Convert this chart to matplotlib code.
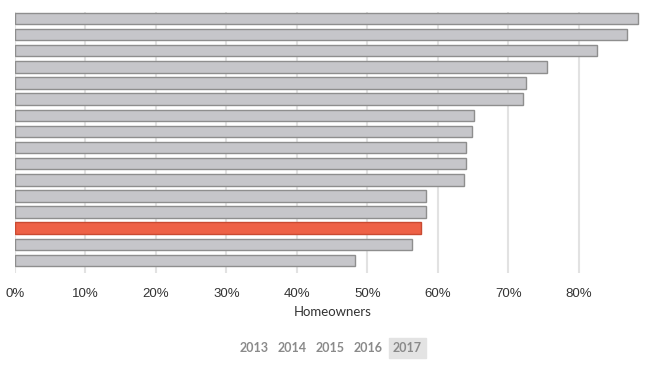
import matplotlib
matplotlib.use("Agg")
import matplotlib.pyplot as plt
import matplotlib.ticker as ticker

# share of homeowners, top to bottom (2017)
values = [88.4, 86.8, 82.6, 75.5, 72.6, 72.1, 65.2, 64.8,
          64.0, 64.0, 63.8, 58.4, 58.4, 57.6, 56.3, 48.2]
highlight = 13
ticks = [0, 10, 20, 30, 40, 50, 60, 70, 80]
years = ['2013', '2014', '2015', '2016', '2017']
active_year = '2017'

W, H = 653, 366
fig = plt.figure(figsize=(W / 100, H / 100), dpi=100)
ax = fig.add_axes([15 / W, 1 - 273 / H, 627 / W, 261 / H])

colors = ['#c6c6ca'] * len(values)
edges = ['#8e8e8e'] * len(values)
colors[highlight] = '#ee6146'
edges[highlight] = '#c94a32'
ax.barh(range(len(values)), values, height=0.71, color=colors,
        edgecolor=edges, linewidth=1.0, zorder=3)

ax.set_xlim(0, 89)
ax.set_ylim(15.775, -0.4)
ax.set_xticks(ticks)
ax.set_xticklabels(['%d%%' % t for t in ticks], family='Liberation Sans')
ax.set_yticks([])
ax.grid(axis='x', color='#e2e2e2', linewidth=1.5, zorder=0)
ax.tick_params(axis='x', length=0, pad=11, labelsize=9.5, labelcolor='#333333')
for s in ax.spines.values():
    s.set_visible(False)

fig.text(333 / W, 1 - 312 / H, 'Homeowners', ha='center', va='center',
         fontsize=9.5, color='#333333', family='Lato')

xs = [254, 292, 330, 368, 407]
for x, y in zip(xs, years):
    if y == active_year:
        fig.patches.append(plt.Rectangle((389 / W, 1 - 358 / H), 37 / W, 20 / H,
                                         transform=fig.transFigure,
                                         color='#e3e3e3', zorder=0))
    fig.text(x / W, 1 - 348 / H, y, ha='center', va='center', fontsize=9,
             color='#8a8a8a', family='Lato', fontweight='bold')

fig.savefig('out.png', dpi=100)
